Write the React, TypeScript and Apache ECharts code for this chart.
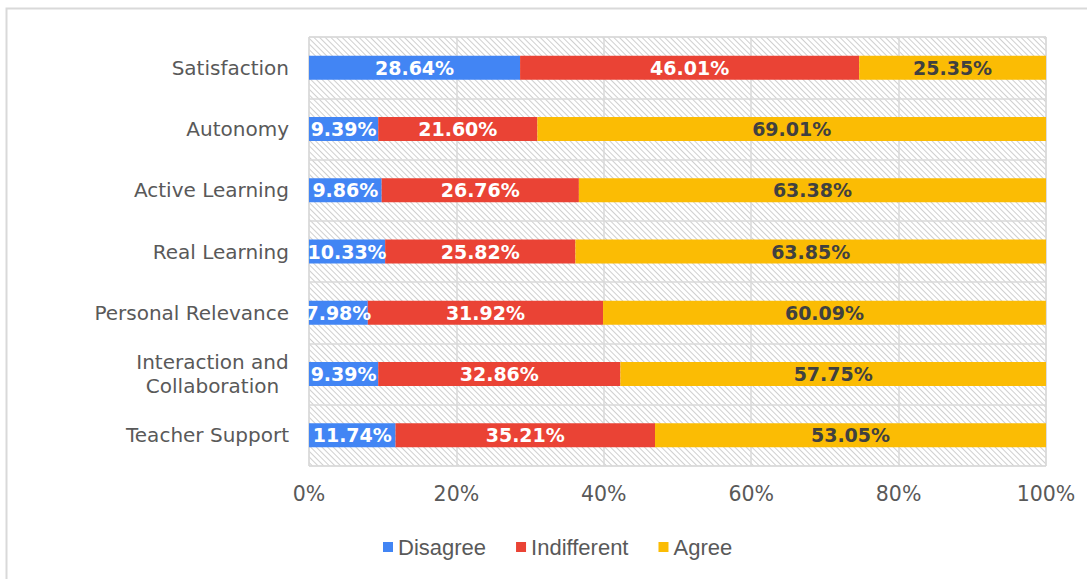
import React, { useEffect, useRef } from "react";
import * as echarts from "echarts";

const categories = [
  "Satisfaction",
  "Autonomy",
  "Active Learning",
  "Real Learning",
  "Personal Relevance",
  "Interaction and Collaboration",
  "Teacher Support",
];
const disagree = [28.64, 9.39, 9.86, 10.33, 7.98, 9.39, 11.74];
const indifferent = [46.01, 21.6, 26.76, 25.82, 31.92, 32.86, 35.21];
const agree = [25.35, 69.01, 63.38, 63.85, 60.09, 57.75, 53.05];
const xTicks = [0, 20, 40, 60, 80, 100];
const seriesNames = ["Disagree", "Indifferent", "Agree"];
const colors = ["#4285F4", "#EA4335", "#FBBC04"];

export default function App() {
  const ref = useRef<HTMLDivElement>(null);
  useEffect(() => {
    const chart = echarts.init(ref.current!, undefined, { renderer: "svg" });
    const labelFont = {
      fontFamily: "DejaVu Sans",
      fontWeight: "bold" as const,
      fontSize: 19,
    };
    const mkSeries = (name: string, data: number[], color: string, labelColor: string) => ({
      name,
      type: "bar",
      stack: "total",
      yAxisIndex: 0,
      barWidth: 24,
      data,
      itemStyle: { color },
      label: {
        show: true,
        position: "inside",
        color: labelColor,
        ...labelFont,
        formatter: (p: any) => p.value.toFixed(2) + "%",
      },
      z: 3,
    });
    chart.setOption({
      animation: false,
      backgroundColor: "#fff",
      graphic: [
        {
          type: "rect",
          shape: { x: 6.5, y: 8.5, width: 1100, height: 600 },
          style: { fill: "none", stroke: "#d9d9d9", lineWidth: 2 },
          silent: true,
        },
      ],
      grid: {
        left: 309,
        right: 41,
        top: 37,
        bottom: 113,
        show: true,
        borderColor: "#d9d9d9",
        borderWidth: 1,
      },
      legend: {
        data: seriesNames,
        left: 378,
        top: 531,
        icon: "rect",
        itemWidth: 10,
        itemHeight: 10,
        itemGap: 30,
        textStyle: {
          color: "#595959",
          fontSize: 22,
          fontFamily: "Liberation Sans",
        },
      },
      xAxis: {
        type: "value",
        min: xTicks[0],
        max: xTicks[xTicks.length - 1],
        interval: 20,
        axisLine: { show: false },
        axisTick: { show: false },
        splitLine: { show: true, lineStyle: { color: "#d9d9d9", width: 1.5 } },
        axisLabel: {
          formatter: "{value}%",
          color: "#595959",
          fontSize: 20.5,
          fontFamily: "DejaVu Sans",
          margin: 17,
        },
      },
      yAxis: [
        {
          type: "category",
          data: categories,
          inverse: true,
          axisLine: { show: false },
          axisTick: { show: false },
          splitLine: { show: true, lineStyle: { color: "#d9d9d9", width: 1.5 } },
          axisLabel: {
            color: "#595959",
            fontSize: 20,
            fontFamily: "DejaVu Sans",
            margin: 20,
            formatter: (v: string) =>
              v === "Interaction and Collaboration"
                ? "{c|Interaction and}\n{c|Collaboration}"
                : v,
            rich: {
              c: {
                width: 153,
                align: "center",
                color: "#595959",
                fontSize: 20,
                fontFamily: "DejaVu Sans",
                lineHeight: 24,
              },
            },
          },
        },
        {
          type: "category",
          data: categories,
          inverse: true,
          show: false,
        },
      ],
      series: [
        {
          name: "bg",
          type: "bar",
          yAxisIndex: 1,
          barWidth: "100%",
          data: categories.map(() => 100),
          silent: true,
          z: -1,
          itemStyle: {
            color: "#ffffff",
            decal: {
              symbol: "rect",
              symbolSize: 1,
              dashArrayX: [1, 0],
              dashArrayY: [1, 3],
              rotation: Math.PI / 4,
              color: "#cfcfcf",
              backgroundColor: "#ffffff",
            },
          },
          label: { show: false },
          tooltip: { show: false },
        },
        mkSeries(seriesNames[0], disagree, colors[0], "#ffffff"),
        mkSeries(seriesNames[1], indifferent, colors[1], "#ffffff"),
        mkSeries(seriesNames[2], agree, colors[2], "#404040"),
      ],
    });
    return () => chart.dispose();
  }, []);
  return (
    <div
      ref={ref}
      style={{ position: "fixed", left: 0, top: 0, width: 1087, height: 579 }}
    />
  );
}
